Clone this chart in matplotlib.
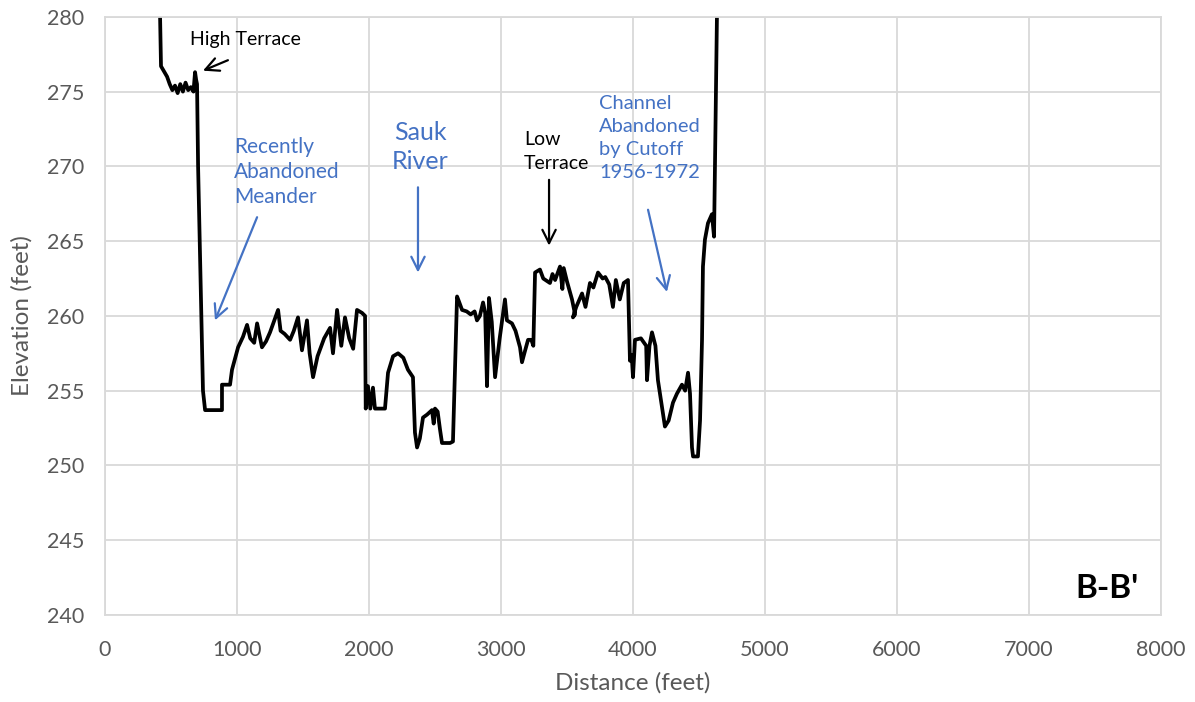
import matplotlib
matplotlib.use("Agg")
import matplotlib.pyplot as plt

# cross-section B-B' elevation profile
distance = [415, 417, 424, 470, 490, 510, 530, 550, 570, 590, 610, 630, 650, 670, 682, 690, 697,
            705, 742, 758, 886, 886, 947, 962, 1008, 1045, 1076, 1100, 1130, 1152, 1189, 1220, 1250,
            1311, 1330, 1360, 1402, 1430, 1462, 1492, 1530, 1550, 1576, 1610, 1660, 1705, 1727, 1758,
            1790, 1818, 1850, 1880, 1909, 1947, 1970, 1975, 1992, 2010, 2030, 2045, 2121, 2144, 2182,
            2220, 2260, 2295, 2333, 2348, 2364, 2385, 2409, 2440, 2477, 2490, 2500, 2520, 2538, 2553,
            2614, 2636, 2667, 2680, 2705, 2740, 2770, 2800, 2818, 2840, 2864, 2880, 2894, 2909, 2930,
            2955, 2990, 3030, 3045, 3083, 3110, 3144, 3159, 3180, 3205, 3230, 3245, 3258, 3295, 3320,
            3371, 3390, 3410, 3447, 3465, 3475, 3500, 3538, 3561, 3545, 3570, 3614, 3640, 3674, 3700,
            3735, 3770, 3790, 3820, 3848, 3870, 3900, 3930, 3962, 3977, 3990, 4000, 4015, 4060, 4100,
            4106, 4125, 4144, 4170, 4189, 4220, 4242, 4270, 4303, 4333, 4371, 4395, 4417, 4432, 4447,
            4455, 4492, 4508, 4523, 4530, 4545, 4568, 4598, 4614, 4621, 4636]
elevation = [282, 280, 276.7, 276.0, 275.5, 275.1, 275.4, 274.9, 275.5, 275.0, 275.6, 275.1, 275.3,
             275.0, 276.3, 275.8, 275.5, 270, 255.0, 253.7, 253.7, 255.4, 255.4, 256.4, 257.9, 258.6,
             259.4, 258.5, 258.2, 259.5, 257.9, 258.3, 258.9, 260.4, 259.0, 258.8, 258.4, 259.0,
             259.9, 257.7, 259.7, 257.5, 255.9, 257.3, 258.5, 259.2, 257.5, 260.4, 258.0, 259.9,
             258.5, 257.8, 260.4, 260.2, 260.0, 253.8, 255.3, 253.8, 255.2, 253.8, 253.8, 256.2,
             257.3, 257.5, 257.2, 256.4, 255.9, 252.2, 251.2, 251.8, 253.2, 253.4, 253.7, 252.8,
             253.8, 253.6, 252.4, 251.5, 251.5, 251.6, 261.3, 261.0, 260.4, 260.3, 260.1, 260.3,
             259.7, 260.0, 260.9, 260.2, 255.3, 261.2, 259.6, 255.9, 258.5, 261.1, 259.7, 259.5,
             259.0, 257.9, 256.9, 257.6, 258.4, 258.4, 258.0, 262.9, 263.1, 262.5, 262.2, 262.8,
             262.4, 263.3, 261.8, 263.2, 262.3, 261.1, 260.1, 259.9, 260.6, 261.5, 260.6, 262.2,
             261.9, 262.9, 262.5, 262.6, 262.1, 260.6, 262.4, 261.1, 262.2, 262.4, 257.0, 257.4,
             255.9, 258.4, 258.5, 258.0, 255.7, 258.0, 258.9, 258.0, 255.7, 253.9, 252.6, 253.0,
             254.2, 254.8, 255.4, 255.0, 256.2, 254.8, 251.2, 250.6, 250.6, 253.0, 258.4, 263.3,
             265.1, 266.2, 266.8, 265.3, 270, 280]

x_ticks = [0, 1000, 2000, 3000, 4000, 5000, 6000, 7000, 8000]
y_ticks = [240, 245, 250, 255, 260, 265, 270, 275, 280]

plt.rcParams['font.family'] = ['Lato', 'DejaVu Sans']

grey = '#595959'
blue = '#4472C4'

fig = plt.figure(figsize=(11.95, 7.02), dpi=100)
ax = fig.add_axes([0.0879, 0.124, 0.8836, 0.852])

ax.plot(distance, elevation, color='black', lw=2.7, solid_joinstyle='round')

ax.set_xlim(0, 8000)
ax.set_ylim(240, 280)
ax.set_xticks(x_ticks)
ax.set_yticks(y_ticks)
ax.grid(True, color='#d9d9d9', lw=1.3)
ax.set_axisbelow(True)
for s in ax.spines.values():
    s.set_color('#d9d9d9')
    s.set_linewidth(1.3)
ax.tick_params(length=0, labelsize=15.5, labelcolor=grey)
ax.tick_params(axis='x', pad=18)
ax.tick_params(axis='y', pad=15)
ax.set_xlabel('Distance (feet)', fontsize=17.5, color=grey, labelpad=9)
ax.set_ylabel('Elevation (feet)', fontsize=17.5, color=grey, labelpad=10)

arrow_kw = dict(arrowstyle='->', lw=1.6, mutation_scale=24, shrinkA=0, shrinkB=0)

# annotations
ax.text(1060, 278.5, 'High Terrace', fontsize=14, color='black', ha='center', va='center')
ax.annotate('', xy=(742, 276.4), xytext=(931, 277.1), arrowprops=dict(color='black', **arrow_kw))

ax.text(980, 269.6, 'Recently\nAbandoned\nMeander', fontsize=15, color=blue, ha='left',
        va='center', linespacing=1.32)
ax.annotate('', xy=(833, 259.7), xytext=(1152, 266.6), arrowprops=dict(color=blue, **arrow_kw))

ax.text(2390, 271.3, 'Sauk\nRiver', fontsize=18, color=blue, ha='center', va='center',
        linespacing=1.32)
ax.annotate('', xy=(2371, 262.9), xytext=(2371, 268.6), arrowprops=dict(color=blue, **arrow_kw))

ax.text(3175, 271.0, 'Low\nTerrace', fontsize=14, color='black', ha='left', va='center',
        linespacing=1.45)
ax.annotate('', xy=(3364, 264.7), xytext=(3364, 269.1), arrowprops=dict(color='black', **arrow_kw))

ax.text(3742, 271.9, 'Channel\nAbandoned\nby Cutoff\n1956-1972', fontsize=14.5, color=blue,
        ha='left', va='center', linespacing=1.45)
ax.annotate('', xy=(4257, 261.6), xytext=(4114, 267.1), arrowprops=dict(color=blue, **arrow_kw))

ax.text(7830, 241.8, "B-B'", fontsize=24, fontweight='bold', color='black', ha='right', va='center')

fig.savefig('out.png', dpi=100)
